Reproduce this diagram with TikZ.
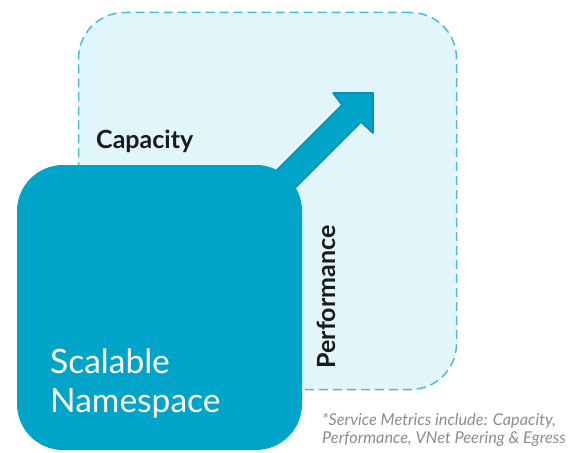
\documentclass[tikz,border=0pt]{standalone}
\usepackage{fontspec}
\setmainfont{Lato}
\definecolor{lightfill}{HTML}{E0F6FA}
\definecolor{dashcol}{HTML}{4BBCD8}
\definecolor{boxcol}{HTML}{01A4C9}
\definecolor{arrowedge}{HTML}{0290B8}
\definecolor{darktext}{HTML}{1A1A1A}
\definecolor{notegray}{HTML}{8C8C8C}
\begin{document}
\begin{tikzpicture}[x=1pt,y=-1pt,
  scopebox/.style={draw=dashcol, fill=lightfill, line width=1.5pt, dash pattern=on 9pt off 5pt,
    rounded corners=46pt, minimum width=378pt, minimum height=377pt, inner sep=0pt},
  nsbox/.style={fill=boxcol, rounded corners=46pt, minimum width=285pt, minimum height=285pt, inner sep=0pt},
  bigarrow/.style={fill=boxcol, draw=arrowedge, line width=1.6pt, line join=round},
  axislabel/.style={font=\bfseries\fontsize{25}{29}\selectfont, text=darktext, inner sep=0pt},
  nslabel/.style={font=\fontsize{33.5}{39}\selectfont, text=white, inner sep=0pt, anchor=base west},
  notelabel/.style={font=\itshape\fontsize{16.3}{19}\selectfont, text=notegray, inner sep=0pt, anchor=base west}]
\useasboundingbox (0,0) rectangle (585,452);
% dashed scope
\node[scopebox] (scope) at (267.5,201) {};
% growth arrow (drawn before the box so the box covers its tail)
\draw[bigarrow] (221,226) -- (342,105) -- (333,93) -- (373,93) -- (373,133) -- (361,122) -- (239,244) -- cycle;
% namespace box
\node[nsbox] (ns) at (159.5,307.5) {};
% labels
\node[axislabel, anchor=base west] (cap) at (96,148) {Capacity};
\node[axislabel, rotate=90] (perf) at (326,297) {Performance};
\node[nslabel] (ns1) at (50,373) {Scalable};
\node[nslabel] (ns2) at (50,412) {Namespace};
\node[notelabel] (note1) at (322,425) {*Service Metrics include: Capacity,};
\node[notelabel] (note2) at (322,443) {Performance, VNet Peering \& Egress};
\end{tikzpicture}
\end{document}
